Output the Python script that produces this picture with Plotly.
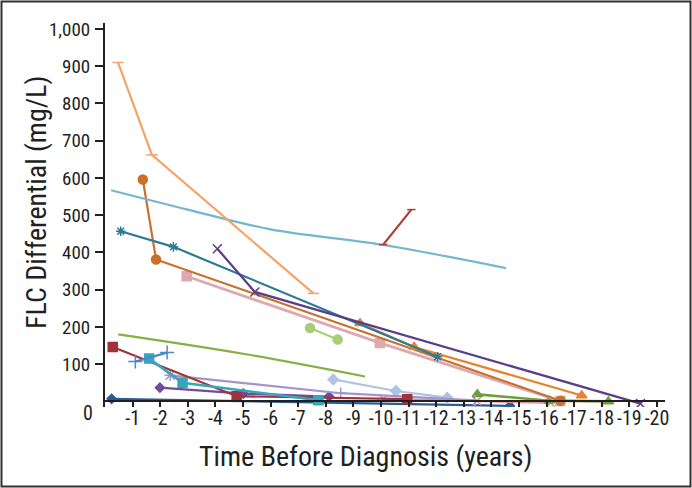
import plotly.graph_objects as go

# ---- data (years before diagnosis, FLC differential mg/L) ----
lt_orange_x = [-0.47, -1.70, -7.55]
lt_orange_y = [910, 662, 290]
brown_x = [-1.37, -1.85, -16.5]
brown_y = [596, 381, 2]
lt_blue_x = [-0.22, -3.0, -6.0, -10.1, -14.53]
lt_blue_y = [567, 515, 462, 420, 358]
red_arrow_x = [-10.08, -11.1]
red_arrow_y = [421, 515]
teal_x = [-0.57, -2.48, -12.05]
teal_y = [457, 415, 120]
dk_purple_x = [-4.07, -5.43, -19.4]
dk_purple_y = [410, 294, -6]
pink_x = [-2.96, -9.96, -16.5]
pink_y = [336, 157, 1]
lt_green_x = [-7.43, -8.43]
lt_green_y = [197, 166]
olive_x = [-0.48, -5.0, -9.42]
olive_y = [180, 128, 67]
dk_red_x = [-0.28, -4.77, -10.95]
dk_red_y = [146, 14, 6]
cyan_x = [-1.6, -2.81, -7.73]
cyan_y = [115, 50, 3]
steel_x = [-1.1, -2.25]
steel_y = [107, 131]
lavender_x = [-2.36, -8.54, -13.4]
lavender_y = [70, 22, 3]
purple_x = [-1.99, -5.01, -8.12]
purple_y = [37, 21, 13]
dk_blue_x = [-0.24, -14.67]
dk_blue_y = [7, -12]
periwinkle_x = [-8.27, -10.54, -12.4]
periwinkle_y = [59, 28, 10]
green_tri_x = [-13.49, -16.1, -18.24]
green_tri_y = [19, 2, 0]
orange_tri_x = [-9.24, -11.2, -17.27]
orange_tri_y = [210, 146, 16]
salmon_x = [-10.08, -13.47, -16.15]
salmon_y = [7, 1, -4]

x_tickvals = list(range(-1, -21, -1))
x_ticktext = ["-%d" % i for i in range(1, 21)]
y_tickvals = list(range(100, 1001, 100))

FONT = "Liberation Sans Narrow, Arial Narrow, Roboto Condensed, Liberation Sans, sans-serif"
INK = "#231F20"

fig = go.Figure()

def add(x, y, color, symbol=None, size=8, width=2.2, shape="linear", mlw=None):
    mode = "lines+markers" if symbol else "lines"
    marker = None
    if symbol:
        marker = dict(symbol=symbol, size=size, color=color,
                      line=dict(color=color, width=mlw if mlw is not None else 1.5))
    fig.add_trace(go.Scatter(x=x, y=y, mode=mode, showlegend=False, hoverinfo="skip",
                             line=dict(color=color, width=width, shape=shape),
                             marker=marker))

# bottom band first
add(dk_blue_x, dk_blue_y, "#2D5C93", "diamond", 7)
add(salmon_x, salmon_y, "#E39494", "x-thin-open", 8)
add(green_tri_x, green_tri_y, "#6E9F3A", "triangle-up", 9, width=2.6)
add(periwinkle_x, periwinkle_y, "#AFC3E2", "diamond", 8)
add(purple_x, purple_y, "#6E4B9B", "diamond", 7)
add(lavender_x, lavender_y, "#A593CB", "cross-thin-open", 8)
add([lavender_x[0]], [lavender_y[0]], "#A593CB", "x-thin-open", 9)
add(dk_red_x, dk_red_y, "#A1323A", "square", 9)
add(cyan_x, cyan_y, "#34A7BD", "square", 9, width=2.6)
add(steel_x, steel_y, "#4A88C8", "cross-thin-open", 10)
add(olive_x, olive_y, "#86B043", None, width=2.2, shape="spline")
add(lt_green_x, lt_green_y, "#A6CD78", "circle", 9)
add(pink_x, pink_y, "#DDA9AE", "square", 9, width=2.8)
add(brown_x, brown_y, "#C9702B", "circle", 9)
add(orange_tri_x, orange_tri_y, "#E8822C", "triangle-up", 9)
add(teal_x, teal_y, "#2C7A97", "asterisk-open", 8)
add(dk_purple_x, dk_purple_y, "#5A3E88", "x-thin-open", 9)
add(lt_blue_x, lt_blue_y, "#74B6CF", None, width=2.2, shape="spline")
add(red_arrow_x, red_arrow_y, "#B03A36", "line-ew-open", 6)
add(lt_orange_x, lt_orange_y, "#F5A466", "line-ew-open", 8)

W, H = 692, 488
L, R, T, B = 105, 27, 23, 81
pw, ph = W - L - R, H - T - B
ymin, ymax = -15, 1016
ypos0 = (0 - ymin) / (ymax - ymin)

def px(xp):
    return (xp - L) / pw

def py(yp):
    return (H - B - yp) / ph

fig.update_layout(
    width=W, height=H,
    margin=dict(l=L, r=R, t=T, b=B),
    paper_bgcolor="white", plot_bgcolor="white",
    font=dict(family=FONT, size=19, color=INK),
    xaxis=dict(range=[0, -20.29], tickvals=x_tickvals, ticktext=x_ticktext,
               showline=True, linecolor=INK, linewidth=2,
               ticks="outside", ticklen=5, tickwidth=1.5, tickcolor=INK,
               ticklabelstandoff=-6,
               showgrid=False, zeroline=False, anchor="free", position=ypos0,
               tickfont=dict(family=FONT, size=20, color=INK)),
    yaxis=dict(range=[ymin, ymax], tickvals=y_tickvals, tickformat=",",
               showline=True, linecolor=INK, linewidth=2,
               ticks="outside", ticklen=8, tickwidth=1.5, tickcolor=INK,
               ticklabelstandoff=1,
               showgrid=False, zeroline=False,
               tickfont=dict(family=FONT, size=19, color=INK)),
    annotations=[
        dict(text="Time Before Diagnosis (years)", x=px(365), y=py(456),
             xref="paper", yref="paper", showarrow=False,
             xanchor="center", yanchor="middle",
             font=dict(family=FONT, size=28, color=INK)),
        dict(text="FLC Differential (mg/L)", x=px(36), y=py(203),
             xref="paper", yref="paper", showarrow=False, textangle=-90,
             xanchor="center", yanchor="middle",
             font=dict(family=FONT, size=28, color=INK)),
        dict(text="0", x=px(88), y=py(413), xref="paper", yref="paper",
             showarrow=False, xanchor="center", yanchor="middle",
             font=dict(family=FONT, size=20, color=INK)),
    ],
    shapes=[dict(type="rect", xref="paper", yref="paper",
                 x0=px(1.5), x1=px(W - 1.5), y0=py(H - 1.5), y1=py(1.5),
                 line=dict(color="#333333", width=2))],
)

fig.write_html("out.html",
               config={"displayModeBar": False, "responsive": False},
               post_script="document.body.style.margin='0';document.body.style.overflow='hidden';")
